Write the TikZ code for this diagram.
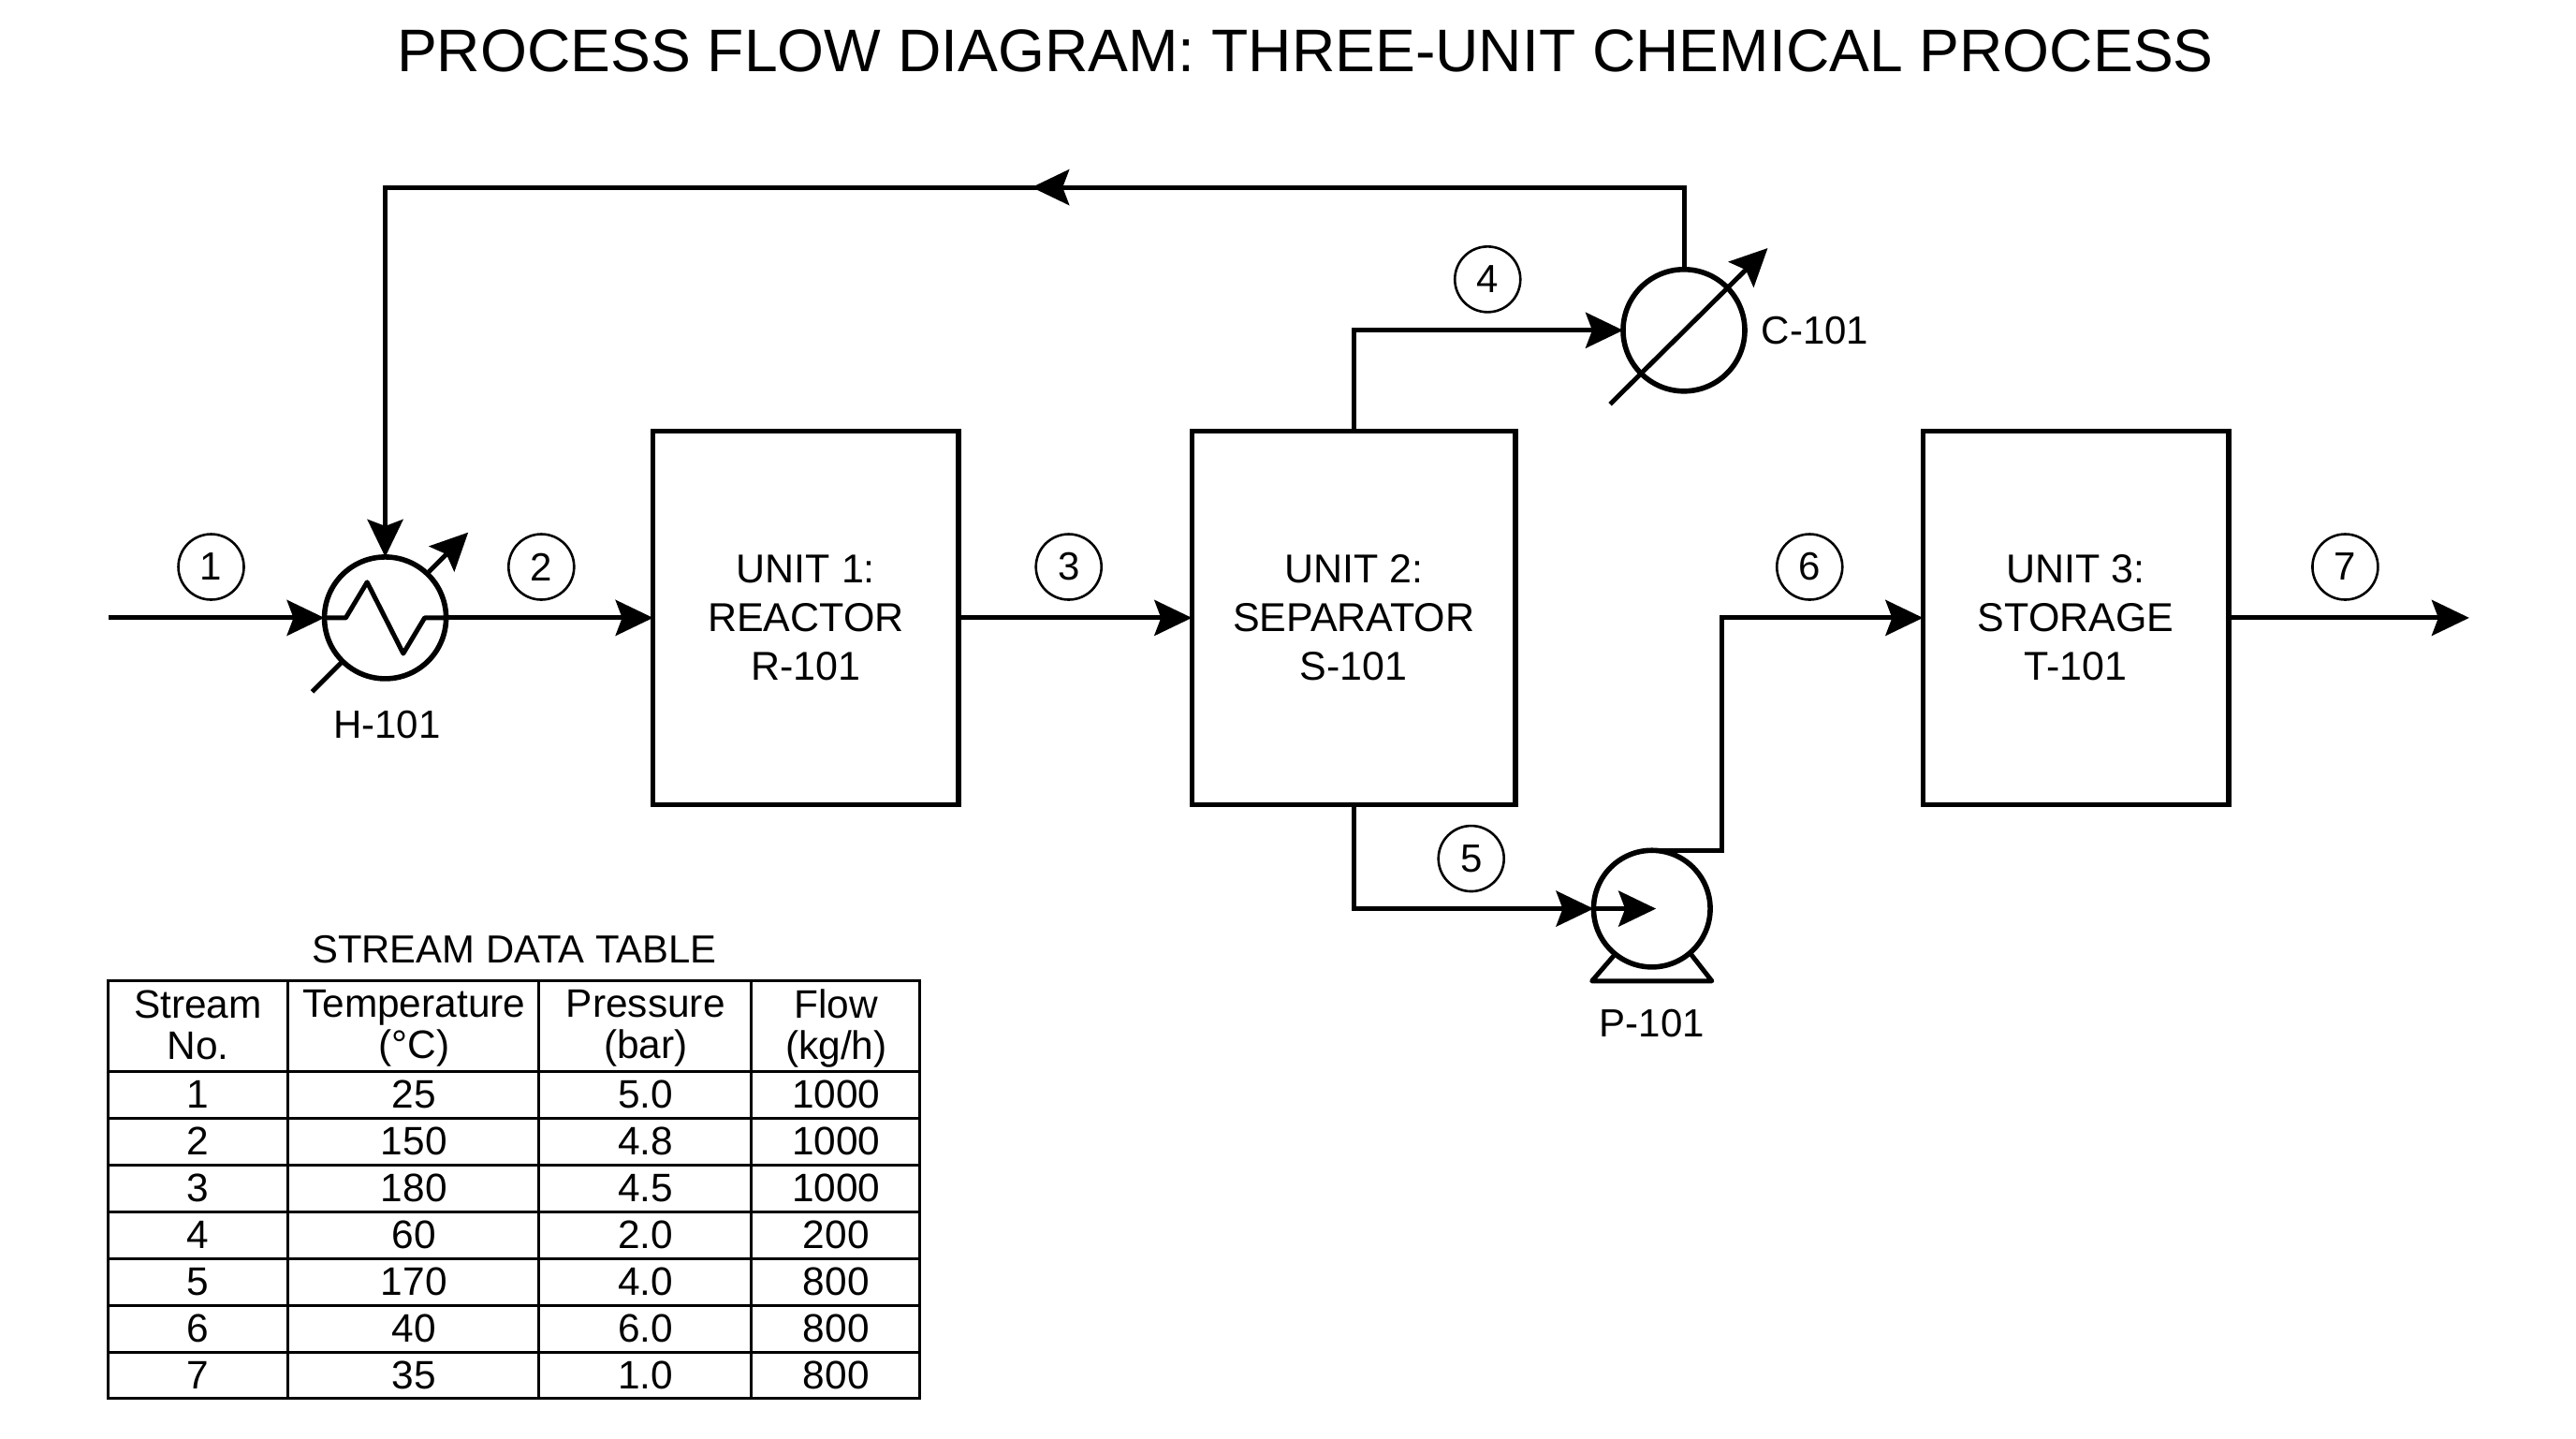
\documentclass[tikz,border=0pt]{standalone}
\usepackage{fontspec}
\setmainfont{Liberation Sans}
\usetikzlibrary{arrows.meta}
\newcommand\hdstrut{\rule[-4.5pt]{0pt}{17pt}}
\tikzset{
  flow/.style={line width=2.5pt,-{Stealth[length=20pt,width=19pt,inset=3.5pt]}},
  plain/.style={line width=2.5pt},
  unitbox/.style={draw,line width=2.8pt,minimum height=199.5pt,align=center,inner sep=0pt,outer sep=0pt,font=\fontsize{21.5}{26}\selectfont},
  hx/.style={draw,circle,line width=2.8pt,minimum size=65pt,inner sep=0pt,outer sep=0pt},
  pumpc/.style={draw,circle,line width=2.8pt,minimum size=62.3pt,inner sep=0pt,outer sep=0pt},
  bubble/.style={draw,circle,line width=1.3pt,minimum size=35pt,inner sep=0pt,font=\fontsize{21}{24}\selectfont},
  tag/.style={font=\fontsize{21}{24}\selectfont,inner sep=0pt},
  cell/.style={font=\fontsize{21.2}{22}\selectfont,inner sep=0pt,align=center},
  grid/.style={line width=1.5pt}
}
\begin{document}
\begin{tikzpicture}[x=0.8775pt,y=-0.8775pt]
\useasboundingbox (0,0) rectangle (1568,875.2);
\fill[white] (0,0) rectangle (1568,875.2);

\node[font=\fontsize{32.1}{34}\selectfont,inner sep=0pt] (title) at (794.5,31) {PROCESS FLOW DIAGRAM: THREE-UNIT CHEMICAL PROCESS};

\node[unitbox,minimum width=163.2pt] (U1) at (490.5,376) {UNIT 1:\\REACTOR\\R-101};
\node[unitbox,minimum width=172.9pt] (U2) at (824,376) {UNIT 2:\\SEPARATOR\\S-101};
\node[unitbox,minimum width=163.2pt] (U3) at (1263.5,376) {UNIT 3:\\STORAGE\\T-101};

\node[hx] (H) at (234.5,376) {};
\node[hx] (C) at (1025,201) {};
\node[pumpc] (P) at (1005.5,553) {};

\node[tag] (Hl) at (235.5,441) {H-101};
\node[tag,anchor=west] (Cl) at (1072,201) {C-101};
\node[tag] (Pl) at (1005.5,622.5) {P-101};

\foreach \n/\x/\y in {1/128.5/345,2/329.5/345,3/650.5/345,4/905.5/170,5/895.5/522.5,6/1101.5/345,7/1427.5/345}
  \node[bubble] (b\n) at (\x,\y) {\n};

\coordinate (in) at (66,376);
\coordinate (out) at (1503,376);
\coordinate (rec) at (628,114);
\coordinate (recb) at (640,114);
\coordinate (pin) at (1008,553);
\coordinate (bend) at (1048,445);

\draw[flow] (in) -- (H.west);
\draw[plain,line join=round] (H.west) -- ++(13,0) -- ++(13,-21.7) -- ++(22,43.4) -- ++(13,-21.7) -- (H.east);
\draw[flow] (H.east) -- (U1.west);
\draw[flow] (U1.east) -- (U2.west);
\draw[flow] (U2.north) |- (C.west);
\draw[flow] (C.north) |- (rec);
\draw[flow] (recb) -| (H.north);
\draw[flow] (U2.south) |- (P.west);
\draw[flow] (P.west) -- (pin);
\draw[plain] (P.north) -| (bend);
\draw[flow] (bend) |- (U3.west);
\draw[flow] (U3.east) -- (out);

% heater utility stubs
\coordinate (h1) at (190,421);
\coordinate (h2) at (208,403);
\coordinate (h3) at (261,348);
\coordinate (h4) at (285,324);
\draw[plain] (h1) -- (h2);
\draw[flow] (h3) -- (h4);

% condenser utility arrow
\coordinate (c1) at (980,246);
\coordinate (c2) at (1076,151);
\draw[flow] (c1) -- (c2);

% pump base
\coordinate (pb1) at (969,597);
\coordinate (pb2) at (1042,597);
\coordinate (pl1) at (982.3,581.6);
\coordinate (pl2) at (1029.5,581);
\draw[plain,line join=round] (pl1) -- (pb1) -- (pb2) -- (pl2);

% stream data table
\node[cell,font=\fontsize{20.9}{22}\selectfont] (tt) at (313,578) {STREAM DATA TABLE};
\draw[grid] (66,597) rectangle (560,851);
\foreach \x in {175,328,457} \draw[grid] (\x,597) -- (\x,851);
\foreach \y in {652,680.5,709,737.5,766,794.5,823} \draw[grid] (66,\y) -- (560,\y);
\node[cell] (h-a) at (120.5,626) {\hdstrut Stream\\\hdstrut No.};
\node[cell] (h-b) at (252,626) {\hdstrut Temperature\\\hdstrut (°C)};
\node[cell] (h-c) at (393,626) {\hdstrut Pressure\\\hdstrut (bar)};
\node[cell] (h-d) at (509,626) {\hdstrut Flow\\\hdstrut (kg/h)};
\foreach \r/\b/\c/\d/\y in {1/25/5.0/1000/666,2/150/4.8/1000/694.5,3/180/4.5/1000/723,4/60/2.0/200/751.5,5/170/4.0/800/780,6/40/6.0/800/808.5,7/35/1.0/800/837}{
  \node[cell] (r\r-a) at (120.5,\y) {\r};
  \node[cell] (r\r-b) at (252,\y) {\b};
  \node[cell] (r\r-c) at (393,\y) {\c};
  \node[cell] (r\r-d) at (509,\y) {\d};
}
\end{tikzpicture}
\end{document}
